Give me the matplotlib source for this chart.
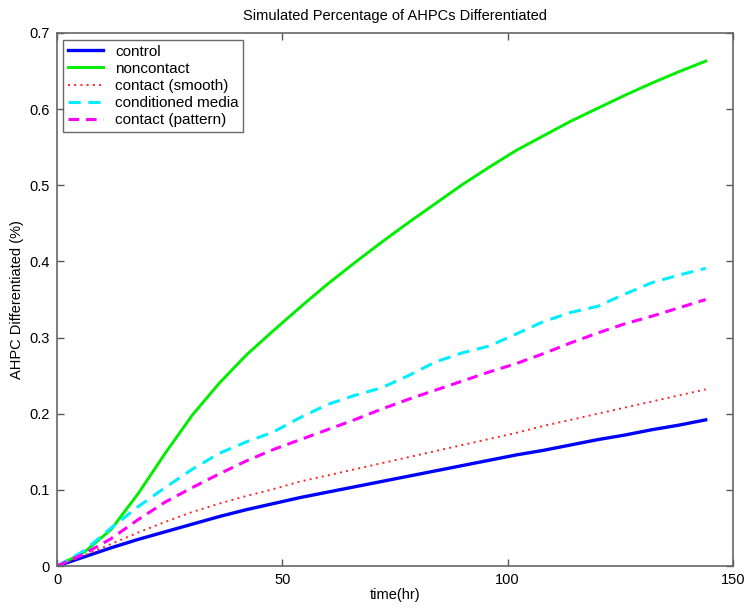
import matplotlib
matplotlib.use("Agg")
import matplotlib.pyplot as plt

time_hr = [0, 6, 12, 18, 24, 30, 36, 42, 48, 54, 60, 66, 72, 78, 84, 90, 96, 102, 108, 114, 120, 126, 132, 138, 144]

control = [0, 0.012, 0.024, 0.035, 0.045, 0.055, 0.065, 0.074, 0.082, 0.090, 0.097, 0.104, 0.111, 0.118, 0.125,
           0.132, 0.139, 0.146, 0.152, 0.159, 0.166, 0.172, 0.179, 0.185, 0.192]
noncontact = [0, 0.018, 0.048, 0.095, 0.148, 0.198, 0.240, 0.277, 0.309, 0.340, 0.370, 0.398, 0.425, 0.451, 0.476,
              0.501, 0.524, 0.546, 0.565, 0.584, 0.601, 0.618, 0.634, 0.649, 0.663]
contact_smooth = [0, 0.014, 0.029, 0.044, 0.058, 0.071, 0.082, 0.092, 0.101, 0.111, 0.119, 0.127, 0.135, 0.143, 0.151,
                  0.159, 0.167, 0.175, 0.184, 0.192, 0.200, 0.208, 0.216, 0.224, 0.232]
conditioned_media = [0, 0.020, 0.050, 0.078, 0.103, 0.127, 0.148, 0.163, 0.176, 0.195, 0.212, 0.224, 0.234, 0.250, 0.268,
                     0.280, 0.289, 0.305, 0.321, 0.333, 0.341, 0.357, 0.372, 0.382, 0.391]
contact_pattern = [0, 0.016, 0.036, 0.061, 0.084, 0.103, 0.121, 0.138, 0.153, 0.166, 0.179, 0.192, 0.206, 0.219, 0.231,
                   0.243, 0.255, 0.266, 0.279, 0.293, 0.306, 0.318, 0.328, 0.339, 0.350]

labels = ["control", "noncontact", "contact (smooth)", "conditioned media", "contact (pattern)"]
x_ticks = [0, 50, 100, 150]
y_ticks = [0, 0.1, 0.2, 0.3, 0.4, 0.5, 0.6, 0.7]

plt.rcParams['font.family'] = ['Liberation Sans', 'DejaVu Sans']

fig = plt.figure(figsize=(7.5, 6.1), dpi=100)
ax = fig.add_axes([0.076, 0.072, 0.901, 0.874])

ax.plot(time_hr, control, color="#0000ff", lw=2.4, label=labels[0])
ax.plot(time_hr, noncontact, color="#00ee00", lw=2.1, label=labels[1])
ax.plot(time_hr, contact_smooth, color="#ff2020", lw=1.4, linestyle=(0, (1, 2.2)), label=labels[2])
ax.plot(time_hr, conditioned_media, color="#00eeff", lw=2.2, linestyle=(0, (4, 2.5)), label=labels[3])
ax.plot(time_hr, contact_pattern, color="#ff00ff", lw=2.2, linestyle=(0, (3.5, 2.2)), label=labels[4])

ax.set_xlim(0, 150)
ax.set_ylim(0, 0.7)
ax.set_xticks(x_ticks)
ax.set_yticks(y_ticks)
ax.set_xticklabels([str(v) for v in x_ticks])
ax.set_yticklabels(["0", "0.1", "0.2", "0.3", "0.4", "0.5", "0.6", "0.7"])
ax.tick_params(direction="in", length=5, width=1, colors="#555555", labelcolor="black",
               labelsize=10.5, top=True, right=True, pad=5)
for s in ax.spines.values():
    s.set_color("#666666")
    s.set_linewidth(1.2)

ax.set_xlabel("time(hr)", fontsize=10.5, labelpad=1)
ax.set_ylabel("AHPC Differentiated (%)", fontsize=10.5, labelpad=4)
ax.set_title("Simulated Percentage of AHPCs Differentiated", fontsize=10.5, pad=9)

leg = ax.legend(loc="upper left", bbox_to_anchor=(0.002, 0.995), fontsize=11, frameon=True, fancybox=False,
                edgecolor="#444444", handlelength=2.3, handletextpad=0.8, borderpad=0.3, labelspacing=0.2,
                borderaxespad=0.3)
leg.get_frame().set_linewidth(1.0)

fig.savefig("out.png", dpi=100)
